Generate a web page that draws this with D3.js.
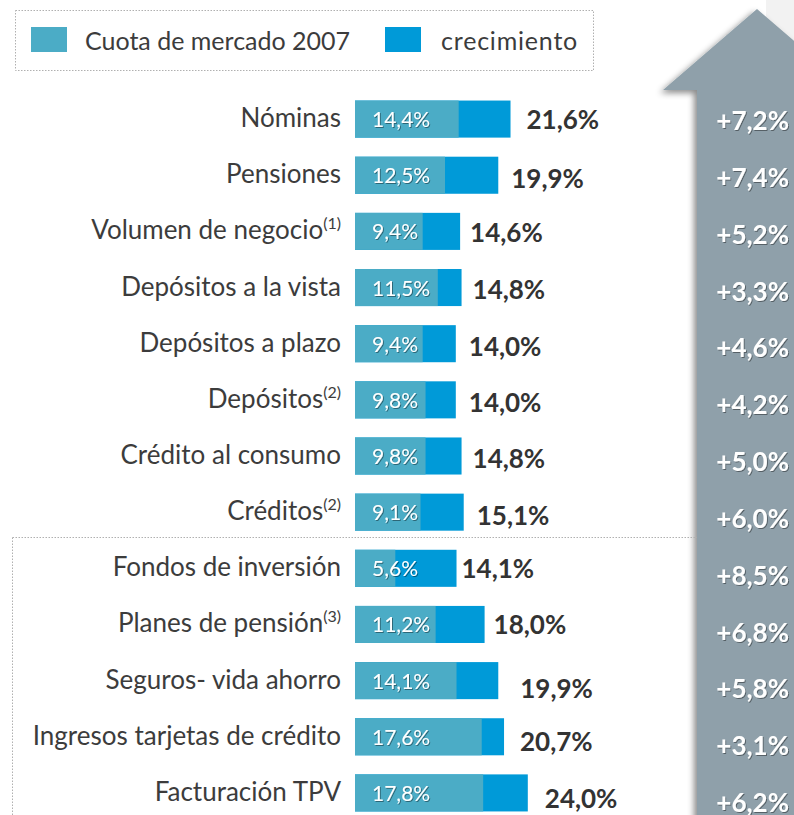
<!DOCTYPE html>
<html>
<head>
<meta charset="utf-8">
<script src="https://cdn.jsdelivr.net/npm/d3@7"></script>
<style>
  body { margin: 0; background: #fff; }
  svg { display: block; font-family: Lato, "Open Sans", sans-serif; }
</style>
</head>
<body>
<svg width="794" height="815"></svg>
<script>
// Data
var categories = ["Nóminas", "Pensiones", "Volumen de negocio", "Depósitos a la vista",
    "Depósitos a plazo", "Depósitos", "Crédito al consumo", "Créditos",
    "Fondos de inversión", "Planes de pensión", "Seguros- vida ahorro",
    "Ingresos tarjetas de crédito", "Facturación TPV"];
var notes = ["", "", "(1)", "", "", "(2)", "", "(2)", "", "(3)", "", "", ""];
var share2007 = [14.4, 12.5, 9.4, 11.5, 9.4, 9.8, 9.8, 9.1, 5.6, 11.2, 14.1, 17.6, 17.8];
var shareNow = [21.6, 19.9, 14.6, 14.8, 14.0, 14.0, 14.8, 15.1, 14.1, 18.0, 19.9, 20.7, 24.0];
var legendLabels = ["Cuota de mercado 2007", "crecimiento"];

// Layout nudges for the hand-placed total labels (dx from bar end, dy from row centre)
var totalDx = [16, 13, 10, 11, 13, 13, 11, 13, 5, 9, 22, 16, 17];
var totalDy = [10, 13, 11, 11, 12, 12, 12, 13, 10, 10, 17, 14, 15];

var svg = d3.select("svg"),
    width = +svg.attr("width"),
    height = +svg.attr("height");

var fmt = function (v) { return v.toFixed(1).replace(".", ",") + "%"; };
var colShare = "#4bacc6", colGrow = "#009ad8", textCol = "#3c3c3c";

var rows = categories.map(function (c, i) {
    return { name: c, note: notes[i], base: share2007[i], total: shareNow[i], i: i };
});

// Scales
var x = d3.scaleLinear().domain([0, 24]).range([355, 355 + 24 * 7.2]);
var y = d3.scaleBand().domain(categories).range([91, 821]).paddingInner(0.34).paddingOuter(0.17);
var yRight = d3.scalePoint().domain(categories).range([121, 803]);

// Filters
var defs = svg.append("defs");
defs.append("filter").attr("id", "arrowShadow")
    .attr("x", "-20%").attr("y", "-20%").attr("width", "140%").attr("height", "140%")
    .append("feDropShadow").attr("dx", -3).attr("dy", 3).attr("stdDeviation", 3)
    .attr("flood-color", "#000").attr("flood-opacity", 0.45);
defs.append("filter").attr("id", "txtShadow")
    .append("feDropShadow").attr("dx", 1).attr("dy", 1).attr("stdDeviation", 0.7)
    .attr("flood-color", "#000").attr("flood-opacity", 0.4);

// Background strip + arrow
svg.append("rect").attr("x", 766).attr("y", 0).attr("width", width - 766).attr("height", 40)
    .attr("fill", "#f2f2f2");
svg.append("path")
    .attr("d", "M757,9 L851,90 L817,90 L817,830 L697,830 L697,90 L663,90 Z")
    .attr("fill", "#8fa0aa")
    .attr("filter", "url(#arrowShadow)");

// Legend
svg.append("rect").attr("x", 15.5).attr("y", 10.5).attr("width", 578).attr("height", 60)
    .attr("fill", "none").attr("stroke", "#b0b0b0").attr("stroke-dasharray", "1.5,1.5");
var legX = [31, 385], legTX = [85, 441], legSpacing = [0, 0.8];
legendLabels.forEach(function (t, k) {
    svg.append("rect").attr("x", legX[k]).attr("y", 27).attr("width", 36).attr("height", 25)
        .attr("fill", k ? colGrow : colShare);
    svg.append("text").attr("x", legTX[k]).attr("y", 50)
        .attr("fill", textCol).style("font-size", "25px")
        .style("letter-spacing", legSpacing[k] + "px").text(t);
});

// Section divider
svg.append("path").attr("d", "M12.5,537.5 H697 M12.5,537.5 V815")
    .attr("fill", "none").attr("stroke", "#b0b0b0").attr("stroke-dasharray", "1.5,1.5");

// Bars
var g = svg.append("g");
var row = g.selectAll("g.row").data(rows).enter().append("g").attr("class", "row");

row.append("rect")
    .attr("x", x(0))
    .attr("y", function (d) { return y(d.name); })
    .attr("width", function (d) { return x(d.total) - x(0); })
    .attr("height", y.bandwidth())
    .attr("fill", colGrow);
row.append("rect")
    .attr("x", x(0))
    .attr("y", function (d) { return y(d.name); })
    .attr("width", function (d) { return x(d.base) - x(0); })
    .attr("height", y.bandwidth())
    .attr("fill", colShare);

// Inner labels
row.append("text")
    .attr("x", x(0) + 17)
    .attr("y", function (d) { return y(d.name) + y.bandwidth() / 2 + 8; })
    .attr("fill", "#fff").attr("filter", "url(#txtShadow)")
    .style("font-size", "21px")
    .text(function (d) { return fmt(d.base); });

// Total labels
row.append("text")
    .attr("x", function (d) { return x(d.total) + totalDx[d.i]; })
    .attr("y", function (d) { return y(d.name) + y.bandwidth() / 2 + totalDy[d.i]; })
    .attr("fill", "#333").style("font-size", "26px").style("font-weight", "bold")
    .text(function (d) { return fmt(d.total); });

// Category labels
var cat = row.append("text")
    .attr("x", 341)
    .attr("y", function (d) { return y(d.name) + y.bandwidth() / 2 + 8; })
    .attr("text-anchor", "end")
    .attr("fill", textCol).style("font-size", "26px");
cat.append("tspan").text(function (d) { return d.name; });
cat.append("tspan")
    .attr("dy", -10).style("font-size", "16px")
    .text(function (d) { return d.note; });

// Growth labels on the arrow
svg.append("g").selectAll("text").data(rows).enter().append("text")
    .attr("x", 789)
    .attr("y", function (d) { return yRight(d.name) + 9; })
    .attr("text-anchor", "end")
    .attr("fill", "#fff").attr("filter", "url(#txtShadow)")
    .style("font-size", "26px").style("font-weight", "bold")
    .text(function (d) { return "+" + fmt(d.total - d.base); });
</script>
</body>
</html>
